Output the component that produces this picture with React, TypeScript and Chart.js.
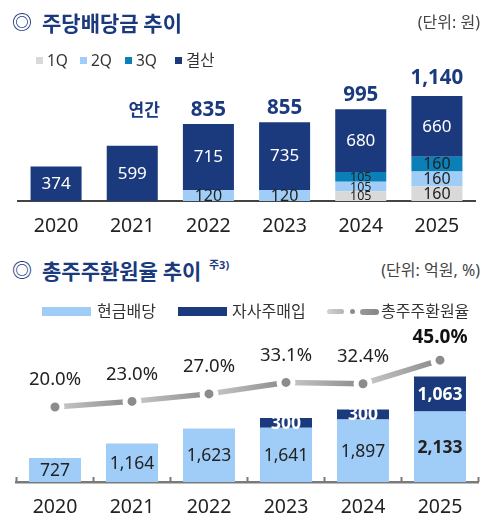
import React, { useEffect, useRef } from "react";
import { Chart, registerables } from "chart.js";

Chart.register(...registerables);

const FONT = "'Noto Sans', 'Noto Sans CJK KR', sans-serif";
const KFONT = "'Noto Sans CJK KR', 'Noto Sans', sans-serif";
const NAVY = "#1b3a7e";
const LIGHT = "#9fcdf7";
const TEAL = "#0b80b8";
const QGRAY = "#d9d9d9";
const TEXT = "#222222";

// ---- Chart 1: dividend per share (원) ----
const years = ["2020", "2021", "2022", "2023", "2024", "2025"];
const q1Div = [null, null, null, null, 105, 160];
const q2Div = [null, null, 120, 120, 105, 160];
const q3Div = [null, null, null, null, 105, 160];
const finalDiv = [374, 599, 715, 735, 680, 660];
const annualTotals = [null, null, 835, 855, 995, 1140];
const annualHeader = "연간";
const divLegend = ["1Q", "2Q", "3Q", "결산"];

// ---- Chart 2: total shareholder return (억원, %) ----
const cashDividend = [727, 1164, 1623, 1641, 1897, 2133];
const buyback = [null, null, null, 300, 300, 1063];
const returnRatio = [20.0, 23.0, 27.0, 33.1, 32.4, 45.0];
const returnLegend = ["현금배당", "자사주매입", "총주주환원율"];

const fmt = (v: number) => v.toLocaleString("en-US");

function DividendChart() {
  const ref = useRef<HTMLCanvasElement | null>(null);
  useEffect(() => {
    if (!ref.current) return;
    const labelPlugin = {
      id: "divLabels",
      afterDatasetsDraw(chart: any) {
        const ctx = chart.ctx;
        ctx.save();
        ctx.textAlign = "center";
        ctx.textBaseline = "middle";
        chart.data.datasets.forEach((ds: any, di: number) => {
          const meta = chart.getDatasetMeta(di);
          meta.data.forEach((bar: any, i: number) => {
            const v = ds.data[i];
            if (v == null) return;
            const { y, base } = bar.getProps(["y", "base"], true);
            const h = Math.abs(base - y);
            const cy = (y + base) / 2;
            if (di === 3) {
              ctx.fillStyle = "#ffffff";
              ctx.font = `400 17px ${FONT}`;
            } else {
              ctx.fillStyle = TEXT;
              ctx.font = `400 ${h < 10.5 ? 12.5 : 16}px ${FONT}`;
            }
            ctx.fillText(fmt(v), bar.x, cy + 0.5);
          });
        });
        const topMeta = chart.getDatasetMeta(3);
        let headerY = 0;
        annualTotals.forEach((t, i) => {
          if (t == null) return;
          const bar = topMeta.data[i];
          const ty = bar.y - 14 - (t > 1000 ? 4 : 0);
          if (!headerY) headerY = ty;
          ctx.fillStyle = NAVY;
          ctx.font = `700 20.5px ${FONT}`;
          ctx.fillText(fmt(t), bar.x, ty);
        });
        const hb = topMeta.data[1];
        ctx.font = `700 17px ${KFONT}`;
        ctx.fillStyle = NAVY;
        ctx.fillText(annualHeader, hb.x + 12, headerY - 1);
        ctx.restore();
      },
    };
    const chart = new Chart(ref.current, {
      type: "bar",
      data: {
        labels: years,
        datasets: [
          { label: divLegend[0], data: q1Div as any, backgroundColor: QGRAY },
          { label: divLegend[1], data: q2Div as any, backgroundColor: LIGHT },
          { label: divLegend[2], data: q3Div as any, backgroundColor: TEAL },
          { label: divLegend[3], data: finalDiv, backgroundColor: NAVY },
        ],
      },
      options: {
        responsive: false,
        animation: false,
        events: [],
        layout: { padding: { left: 18, right: 19, top: 72, bottom: 0 } },
        plugins: { legend: { display: false }, tooltip: { enabled: false } },
        datasets: { bar: { barPercentage: 0.67, categoryPercentage: 1 } },
        scales: {
          x: {
            stacked: true,
            grid: { display: false, drawTicks: false },
            border: { display: true, color: "#444444", width: 2 },
            ticks: { font: { size: 19.5, family: FONT }, color: TEXT, padding: 14 },
            afterFit: (s: any) => {
              s.height = 49;
            },
          },
          y: { stacked: true, display: false, min: 0, max: 1400 },
        },
      } as any,
      plugins: [labelPlugin],
    });
    return () => chart.destroy();
  }, []);
  return (
    <canvas
      ref={ref}
      width={494}
      height={250}
      style={{ position: "absolute", left: 0, top: 0, width: 494, height: 250 }}
    />
  );
}

function ReturnChart() {
  const ref = useRef<HTMLCanvasElement | null>(null);
  useEffect(() => {
    if (!ref.current) return;
    const canvas = ref.current;
    const gctx = canvas.getContext("2d") as CanvasRenderingContext2D;
    const labelPlugin = {
      id: "retLabels",
      afterDatasetsDraw(chart: any) {
        const ctx = chart.ctx;
        const xs = chart.scales.x;
        const bottom = chart.chartArea.bottom;
        ctx.save();
        // small tick marks at category boundaries
        ctx.strokeStyle = "#7a7a7a";
        ctx.lineWidth = 2;
        for (let i = 0; i <= years.length; i++) {
          const px = xs.getPixelForValue(i - 0.5);
          ctx.beginPath();
          ctx.moveTo(px, bottom);
          ctx.lineTo(px, bottom - 5);
          ctx.stroke();
        }
        ctx.textAlign = "center";
        ctx.textBaseline = "middle";
        const last = years.length - 1;
        // cash dividend labels
        chart.getDatasetMeta(0).data.forEach((bar: any, i: number) => {
          const v = cashDividend[i];
          if (v == null) return;
          ctx.fillStyle = TEXT;
          ctx.font = `${i === last ? 700 : 400} 17.5px ${FONT}`;
          ctx.fillText(fmt(v), bar.x, (bar.y + bar.base) / 2 + 1);
        });
        // buyback labels
        chart.getDatasetMeta(1).data.forEach((bar: any, i: number) => {
          const v = buyback[i];
          if (v == null) return;
          ctx.fillStyle = "#ffffff";
          ctx.font = `700 17.5px ${FONT}`;
          ctx.fillText(fmt(v), bar.x, (bar.y + bar.base) / 2 + 1);
        });
        // ratio labels
        chart.getDatasetMeta(2).data.forEach((pt: any, i: number) => {
          const v = returnRatio[i];
          if (i === last) {
            ctx.fillStyle = "#111111";
            ctx.font = `700 19px ${FONT}`;
            ctx.fillText(v.toFixed(1) + "%", pt.x, pt.y - 23);
          } else {
            ctx.fillStyle = TEXT;
            ctx.font = `400 18.5px ${FONT}`;
            ctx.fillText(v.toFixed(1) + "%", pt.x, pt.y - 27);
          }
        });
        ctx.restore();
      },
    };
    const chart = new Chart(canvas, {
      type: "bar",
      data: {
        labels: years,
        datasets: [
          { label: returnLegend[0], data: cashDividend, backgroundColor: LIGHT, order: 2, yAxisID: "y" },
          { label: returnLegend[1], data: buyback as any, backgroundColor: NAVY, order: 2, yAxisID: "y" },
          {
            type: "line",
            label: returnLegend[2],
            data: returnRatio,
            yAxisID: "y2",
            order: 0,
            borderWidth: 5.5,
            borderColor: "#a0a0a0",
            pointRadius: 7,
            pointBorderWidth: 5,
            pointBackgroundColor: "#8c8c8c",
            pointBorderColor: "#ffffff",
            tension: 0,
            segment: {
              borderColor: (s: any) => {
                const g = gctx.createLinearGradient(s.p0.x, s.p0.y, s.p1.x, s.p1.y);
                g.addColorStop(0, "#cacaca");
                g.addColorStop(1, "#8a8a8a");
                return g;
              },
            },
          } as any,
        ],
      },
      options: {
        responsive: false,
        animation: false,
        events: [],
        layout: { padding: { left: 16.5, right: 15.5, top: 42, bottom: 0 } },
        plugins: { legend: { display: false }, tooltip: { enabled: false } },
        datasets: { bar: { barPercentage: 0.675, categoryPercentage: 1 } },
        scales: {
          x: {
            stacked: true,
            grid: { display: false, drawTicks: false },
            border: { display: true, color: "#7a7a7a", width: 2.5 },
            ticks: { font: { size: 19.5, family: FONT }, color: TEXT, padding: 14 },
            afterFit: (s: any) => {
              s.height = 40;
            },
          },
          y: { stacked: true, display: false, min: 0, max: 4545 },
          y2: { display: false, min: -20, max: 60 },
        },
      } as any,
      plugins: [labelPlugin],
    });
    return () => chart.destroy();
  }, []);
  return (
    <canvas
      ref={ref}
      width={494}
      height={232}
      style={{ position: "absolute", left: 0, top: 290, width: 494, height: 232 }}
    />
  );
}

const abs = (s: React.CSSProperties): React.CSSProperties => ({
  position: "absolute",
  whiteSpace: "nowrap",
  ...s,
});

export default function App() {
  const legendColors = [QGRAY, LIGHT, TEAL, NAVY];
  const legendX = [36, 80, 125, 175];
  return (
    <div
      style={{
        position: "absolute",
        left: 0,
        top: 0,
        width: 494,
        height: 522,
        background: "#ffffff",
        fontFamily: FONT,
        overflow: "hidden",
      }}
    >
      <DividendChart />
      <ReturnChart />

      {/* Title 1 */}
      <div style={abs({ left: 12, top: 8, fontSize: 20, lineHeight: "28px", color: NAVY, fontWeight: 700, fontFamily: KFONT })}>◎</div>
      <div style={abs({ left: 42, top: 7, fontSize: 21, lineHeight: "30px", color: NAVY, fontWeight: 700, fontFamily: KFONT })}>
        주당배당금 추이
      </div>
      <div style={abs({ right: 14, top: 11, fontSize: 16, lineHeight: "22px", color: "#444" })}>(단위: 원)</div>

      {/* Legend 1 */}
      {divLegend.map((t, i) => (
        <React.Fragment key={t}>
          <div style={abs({ left: legendX[i], top: 56.5, width: 7, height: 7, background: legendColors[i] })} />
          <div style={abs({ left: legendX[i] + 11, top: 49, fontSize: 15.5, lineHeight: "22px", color: "#333" })}>{t}</div>
        </React.Fragment>
      ))}

      {/* Title 2 */}
      <div style={abs({ left: 12, top: 256, fontSize: 20, lineHeight: "28px", color: NAVY, fontWeight: 700, fontFamily: KFONT })}>◎</div>
      <div style={abs({ left: 42, top: 255, fontSize: 21, lineHeight: "30px", color: NAVY, fontWeight: 700, fontFamily: KFONT })}>
        총주주환원율 추이
      </div>
      <div style={abs({ left: 209, top: 258, fontSize: 11, lineHeight: "14px", color: NAVY, fontWeight: 700 })}>주3)</div>
      <div style={abs({ right: 14, top: 259, fontSize: 16, lineHeight: "22px", color: "#444" })}>(단위: 억원, %)</div>

      {/* Legend 2 */}
      <div style={abs({ left: 42, top: 307, width: 49, height: 9, background: LIGHT })} />
      <div style={abs({ left: 97, top: 300, fontSize: 16, lineHeight: "22px", color: "#333" })}>{returnLegend[0]}</div>
      <div style={abs({ left: 178, top: 307, width: 49, height: 9, background: NAVY })} />
      <div style={abs({ left: 232, top: 300, fontSize: 16, lineHeight: "22px", color: "#333" })}>{returnLegend[1]}</div>
      <div
        style={abs({
          left: 327,
          top: 309,
          width: 17,
          height: 5,
          borderRadius: 3,
          background: "linear-gradient(90deg, #d2d2d2, #b4b4b4)",
        })}
      />
      <div style={abs({ left: 349.5, top: 309, width: 5, height: 5, borderRadius: 3, background: "#8c8c8c" })} />
      <div
        style={abs({
          left: 360,
          top: 308.5,
          width: 19,
          height: 6,
          borderRadius: 3,
          background: "linear-gradient(90deg, #9a9a9a, #858585)",
        })}
      />
      <div style={abs({ left: 381, top: 300, fontSize: 16, lineHeight: "22px", color: "#333" })}>{returnLegend[2]}</div>
    </div>
  );
}
